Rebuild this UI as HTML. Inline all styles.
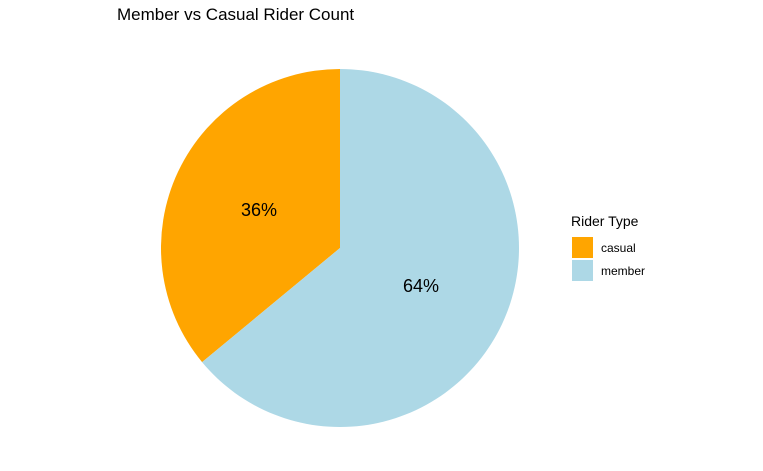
<!DOCTYPE html>
<html><head><meta charset="utf-8"><style>
body{margin:0;background:#fff;}
svg{display:block;font-family:"Liberation Sans",sans-serif;}
</style></head><body>
<svg id="chart" width="763" height="471">
<text x="117" y="20" font-size="17" fill="#000">Member vs Casual Rider Count</text>
<g id="pie"></g>
<text x="571" y="226" font-size="14" fill="#000">Rider Type</text>
<g id="legend"></g>
</svg>
<script>
const categories=["casual","member"];
const values=[36,64];
const colors=["#FFA500","#ADD8E6"];
const cx=340,cy=248,r=179;
const svgNS="http://www.w3.org/2000/svg";
const pie=document.getElementById('pie');
const total=values.reduce((a,b)=>a+b,0);
// casual goes counterclockwise from top; member fills rest
let start=0;
const labels=[];
values.forEach((v,i)=>{
  const frac=v/total;
  const a0=start, a1=start-frac*2*Math.PI; // angles measured clockwise from top
  const p=(a)=>[cx+r*Math.sin(a),cy-r*Math.cos(a)];
  const [x0,y0]=p(a0),[x1,y1]=p(a1);
  const large=frac>0.5?1:0;
  const path=document.createElementNS(svgNS,'path');
  path.setAttribute('d',`M${cx},${cy} L${x0},${y0} A${r},${r} 0 ${large} 0 ${x1},${y1} Z`);
  path.setAttribute('fill',colors[i]);
  
  
  pie.appendChild(path);
  const mid=(a0+a1)/2, lr=r*0.5;
  labels.push([cx+lr*Math.sin(mid),cy-lr*Math.cos(mid),Math.round(frac*100)+'%',categories[i]]);
  start=a1;
});
labels.forEach(l=>{
  const t=document.createElementNS(svgNS,'text');
  t.setAttribute('x',l[0]);t.setAttribute('y',l[1]+6);
  t.setAttribute('text-anchor','middle');t.setAttribute('font-size','18');
  t.textContent=l[2];
  
  
  pie.appendChild(t);
});
const leg=document.getElementById('legend');
categories.forEach((c,i)=>{
  const rc=document.createElementNS(svgNS,'rect');
  rc.setAttribute('x',572);rc.setAttribute('y',237+i*23);
  rc.setAttribute('width',21);rc.setAttribute('height',21);
  rc.setAttribute('fill',colors[i]);
  
  
  leg.appendChild(rc);
  const t=document.createElementNS(svgNS,'text');
  t.setAttribute('x',601);t.setAttribute('y',252+i*23);
  t.setAttribute('font-size','12');t.textContent=c;
  
  
  leg.appendChild(t);
});
</script>
</body></html>
